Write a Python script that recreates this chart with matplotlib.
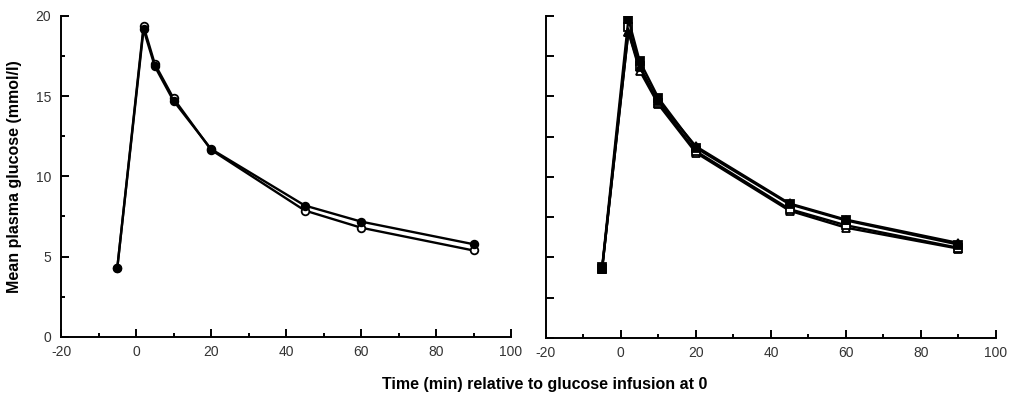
import numpy as np
import matplotlib.pyplot as plt
from matplotlib.ticker import MultipleLocator

plt.rcParams['font.family'] = ['Liberation Sans', 'DejaVu Sans']
plt.rcParams['axes.unicode_minus'] = False

# sampling times (min) relative to glucose infusion
t = [-5, 2, 5, 10, 20, 45, 60, 90]

# left panel
left_filled = [4.3, 19.15, 16.85, 14.7, 11.7, 8.18, 7.18, 5.77]
left_open = [4.3, 19.35, 17.0, 14.85, 11.65, 7.87, 6.8, 5.38]

# right panel
right_filled_sq = [4.4, 19.8, 17.2, 14.9, 11.8, 8.3, 7.3, 5.8]
right_filled_tri = [4.3, 19.0, 16.8, 14.7, 11.9, 8.35, 7.35, 5.9]
right_open_sq = [4.3, 19.3, 16.9, 14.6, 11.6, 8.0, 7.0, 5.6]
right_open_tri = [4.3, 19.0, 16.6, 14.5, 11.5, 7.9, 6.85, 5.55]

xticks = [-20, 0, 20, 40, 60, 80, 100]
yticks = [0, 5, 10, 15, 20]

fig = plt.figure(figsize=(10.09, 3.94), dpi=100)
ax1 = fig.add_axes([0.0605, 0.145, 0.446, 0.815])
ax2 = fig.add_axes([0.541, 0.142, 0.446, 0.818])


def style_axis(ax, show_ylabels):
    ax.set_xlim(-20, 100)
    ax.set_ylim(0, 20)
    ax.spines['top'].set_visible(False)
    ax.spines['right'].set_visible(False)
    ax.spines['left'].set_linewidth(1.4)
    ax.spines['bottom'].set_linewidth(1.4)
    ax.set_xticks(xticks)
    ax.set_yticks(yticks)
    ax.xaxis.set_minor_locator(MultipleLocator(10))
    ax.yaxis.set_minor_locator(MultipleLocator(2.5))
    ax.tick_params(which='major', direction='in', length=6, width=1.4, labelsize=10,
                   labelcolor='#333333')
    ax.tick_params(axis='x', which='major', pad=6)
    ax.tick_params(axis='y', which='major', pad=7)
    ax.tick_params(which='minor', direction='in', length=3, width=1.4)
    if not show_ylabels:
        ax.tick_params(axis='y', which='both', labelleft=False)
        ax.tick_params(axis='y', which='minor', length=6)


kw = dict(color='black', lw=1.7, markersize=5.5, markeredgewidth=1.3)

ax1.plot(t, left_open, marker='o', markerfacecolor='white', **kw)
ax1.plot(t, left_filled, marker='o', markerfacecolor='black', **kw)
style_axis(ax1, True)
ax1.set_ylabel('Mean plasma glucose (mmol/l)', fontsize=11.5, fontweight='bold', labelpad=10)

ax2.plot(t, right_open_tri, marker='^', markerfacecolor='white', **kw)
ax2.plot(t, right_open_sq, marker='s', markerfacecolor='white', **kw)
ax2.plot(t, right_filled_tri, marker='^', markerfacecolor='black', **kw)
ax2.plot(t, right_filled_sq, marker='s', markerfacecolor='black', **kw)
style_axis(ax2, False)

fig.text(0.54, 0.025, 'Time (min) relative to glucose infusion at 0',
         ha='center', va='center', fontsize=11.5, fontweight='bold')

fig.savefig('out.png', dpi=100)
